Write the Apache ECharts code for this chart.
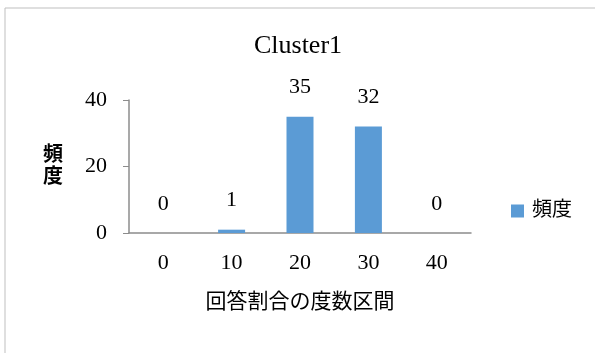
<!DOCTYPE html>
<html>
<head>
<meta charset="utf-8">
<script src="https://cdn.jsdelivr.net/npm/echarts@6/dist/echarts.min.js"></script>
<style>
  html, body { margin: 0; padding: 0; background: #fff; }
  #main { width: 595px; height: 353px; }
</style>
</head>
<body>
<div id="main"></div>
<script>
// 度数分布のデータ
const categories = ['0', '10', '20', '30', '40'];
const counts = [0, 1, 35, 32, 0];
const yTicks = [0, 20, 40];

const FONT = "'Liberation Serif', 'Noto Sans CJK JP', serif";
const axisColor = '#8c8c8c';

const chart = echarts.init(document.getElementById('main'));

chart.setOption({
  animation: false,
  textStyle: { fontFamily: FONT, color: '#000' },
  title: {
    text: 'Cluster1',
    left: 298,
    top: 33,
    textAlign: 'center',
    padding: 0,
    textStyle: { fontFamily: FONT, fontSize: 26, fontWeight: 'normal', color: '#000' }
  },
  legend: {
    data: ['頻度'],
    left: 511,
    top: 201,
    padding: 0,
    icon: 'rect',
    itemWidth: 13,
    itemHeight: 13,
    textStyle: { fontFamily: FONT, fontSize: 20, color: '#000', padding: [0, 0, 0, 3] }
  },
  grid: { left: 129, right: 124, top: 100, bottom: 120 },
  xAxis: {
    type: 'category',
    data: categories,
    name: '回答割合の度数区間',
    nameLocation: 'middle',
    nameGap: 59,
    nameTextStyle: { fontFamily: FONT, fontSize: 21, color: '#000' },
    axisLine: { lineStyle: { color: axisColor, width: 1.5 } },
    axisTick: { length: 5, lineStyle: { color: axisColor } },
    axisLabel: { fontFamily: FONT, fontSize: 22, color: '#000', margin: 19 }
  },
  yAxis: {
    type: 'value',
    min: yTicks[0],
    max: yTicks[yTicks.length - 1],
    interval: 20,
    name: '頻\n度',
    nameLocation: 'middle',
    nameRotate: 0,
    nameGap: 66,
    nameTextStyle: { fontFamily: FONT, fontSize: 20, color: '#000', lineHeight: 22, fontWeight: 'bold' },
    splitLine: { show: false },
    axisLine: { show: true, lineStyle: { color: axisColor, width: 1.5 } },
    axisTick: { show: true, inside: false, length: 6, lineStyle: { color: axisColor } },
    axisLabel: { fontFamily: FONT, fontSize: 22, color: '#000', margin: 22 }
  },
  series: [{
    name: '頻度',
    type: 'bar',
    data: counts,
    barWidth: 27,
    itemStyle: { color: '#5b9bd5' },
    label: {
      show: true,
      position: 'top',
      distance: 18,
      fontFamily: FONT,
      fontSize: 22,
      color: '#000'
    }
  }],
  graphic: [
    { type: 'line', shape: { x1: 5, y1: 8, x2: 595, y2: 8 }, style: { stroke: '#bfbfbf', lineWidth: 1 } },
    { type: 'line', shape: { x1: 5, y1: 8, x2: 5, y2: 353 }, style: { stroke: '#bfbfbf', lineWidth: 1 } }
  ]
});
</script>
</body>
</html>
